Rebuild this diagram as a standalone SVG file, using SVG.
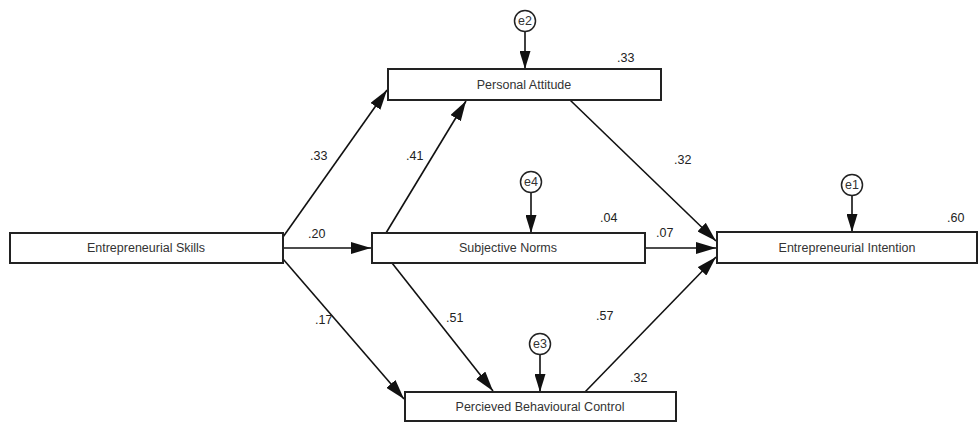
<svg xmlns="http://www.w3.org/2000/svg" width="979" height="423" viewBox="0 0 979 423">
<defs>
<marker id="ah" markerWidth="20" markerHeight="12" refX="20" refY="6" orient="auto" markerUnits="userSpaceOnUse" viewBox="0 0 20 12">
<path d="M0,0 L20,6 L0,12 Z" fill="#111"/>
</marker>
<marker id="ahs" markerWidth="18" markerHeight="11" refX="18" refY="5.5" orient="auto" markerUnits="userSpaceOnUse" viewBox="0 0 18 11">
<path d="M0,0 L18,5.5 L0,11 Z" fill="#111"/>
</marker>
</defs>
<style>
.box{fill:#fff;stroke:#222;stroke-width:2}
.err{fill:#fff;stroke:#222;stroke-width:1.5}
.t{font-family:"Liberation Sans",Arial,sans-serif;font-size:12.5px;fill:#333;text-anchor:middle}
.n{font-family:"Liberation Sans",Arial,sans-serif;font-size:12.5px;fill:#222}
.c{stroke:#111;stroke-width:1.6;fill:none;marker-end:url(#ah)}
.e{stroke:#111;stroke-width:1.6;fill:none;marker-end:url(#ahs)}
</style>
<rect width="979" height="423" fill="#fff"/>
<g id="connectors">
<line class="c" x1="283" y1="237" x2="387" y2="90"/>
<line class="c" x1="283" y1="248" x2="371" y2="248"/>
<line class="c" x1="283" y1="259" x2="404" y2="399"/>
<line class="c" x1="386" y1="233" x2="466" y2="101"/>
<line class="c" x1="392" y1="263" x2="493" y2="391"/>
<line class="c" x1="570" y1="100" x2="716" y2="241"/>
<line class="c" x1="645" y1="248" x2="716" y2="248"/>
<line class="c" x1="585" y1="392" x2="716" y2="257"/>
<line class="e" x1="525" y1="32" x2="525" y2="69"/>
<line class="e" x1="531" y1="193" x2="531" y2="233"/>
<line class="e" x1="540" y1="355" x2="540" y2="392"/>
<line class="e" x1="852" y1="196" x2="852" y2="232"/>
</g>
<g id="e2"><circle class="err" cx="525" cy="21" r="10.5"/><text class="t" x="525" y="25" font-size="11">e2</text></g>
<g id="e4"><circle class="err" cx="531" cy="182" r="10.5"/><text class="t" x="531" y="186" font-size="11">e4</text></g>
<g id="e3"><circle class="err" cx="540" cy="344" r="10.5"/><text class="t" x="540" y="348" font-size="11">e3</text></g>
<g id="e1"><circle class="err" cx="852" cy="185" r="10.5"/><text class="t" x="852" y="189" font-size="11">e1</text></g>
<g id="skills"><rect class="box" x="10" y="233" width="273" height="30"/><text class="t" x="146" y="252">Entrepreneurial Skills</text></g>
<g id="attitude"><rect class="box" x="388" y="69" width="273" height="31"/><text class="t" x="524" y="89">Personal Attitude</text><text class="n" x="617" y="62">.33</text></g>
<g id="norms"><rect class="box" x="372" y="233" width="273" height="30"/><text class="t" x="508" y="252">Subjective Norms</text><text class="n" x="600" y="222">.04</text></g>
<g id="pbc"><rect class="box" x="405" y="392" width="271" height="29"/><text class="t" x="540" y="411">Percieved Behavioural Control</text><text class="n" x="630" y="382">.32</text></g>
<g id="intention"><rect class="box" x="717" y="232" width="260" height="31"/><text class="t" x="847" y="252">Entrepreneurial Intention</text><text class="n" x="947" y="222">.60</text></g>
<g id="labels">
<text class="n" x="310" y="160">.33</text>
<text class="n" x="406" y="160">.41</text>
<text class="n" x="308" y="238">.20</text>
<text class="n" x="315" y="324">.17</text>
<text class="n" x="446" y="322">.51</text>
<text class="n" x="596" y="320">.57</text>
<text class="n" x="674" y="164">.32</text>
<text class="n" x="656" y="237">.07</text>
</g>
</svg>
